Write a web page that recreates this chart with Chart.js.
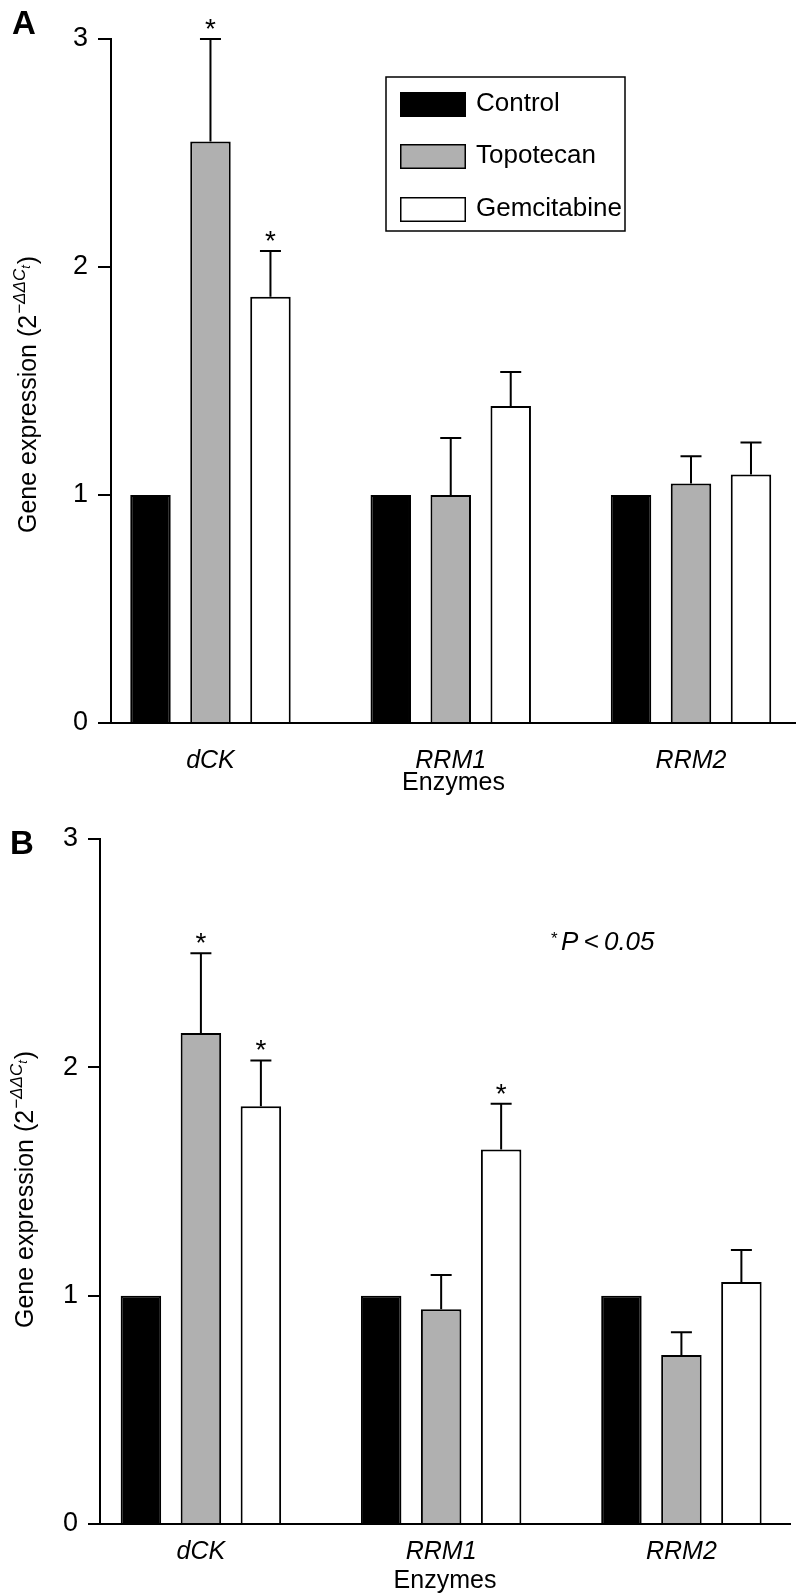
<!DOCTYPE html>
<html>
<head>
<meta charset="utf-8">
<script src="https://cdn.jsdelivr.net/npm/chart.js@4.4.1/dist/chart.umd.min.js"></script>
<style>
  html, body { margin: 0; padding: 0; background: #fff; overflow: hidden; }
  .panel { position: absolute; left: 0; width: 796px; height: 798px; }
  #pa { top: 0; }
  #pb { top: 798px; }
</style>
</head>
<body>
<div class="panel" id="pa"><canvas id="chartA"></canvas></div>
<div class="panel" id="pb"><canvas id="chartB"></canvas></div>
<script>
// categories / series
var categories = ['dCK', 'RRM1', 'RRM2'];
var seriesNames = ['Control', 'Topotecan', 'Gemcitabine'];
var seriesColors = ['#000000', '#b0b0b0', '#ffffff'];
var yTicks = [0, 1, 2, 3];

// panel A
var aControl = [1.00, 1.00, 1.00];
var aTopotecan = [2.55, 1.00, 1.05];
var aGemcitabine = [1.87, 1.39, 1.09];
var aControlErr = [0, 0, 0];
var aTopotecanErr = [0.45, 0.25, 0.12];
var aGemcitabineErr = [0.20, 0.15, 0.14];
var aTopotecanStar = [true, false, false];
var aGemcitabineStar = [true, false, false];

// panel B
var bControl = [1.00, 1.00, 1.00];
var bTopotecan = [2.15, 0.94, 0.74];
var bGemcitabine = [1.83, 1.64, 1.06];
var bControlErr = [0, 0, 0];
var bTopotecanErr = [0.35, 0.15, 0.10];
var bGemcitabineErr = [0.20, 0.20, 0.14];
var bTopotecanStar = [true, false, false];
var bGemcitabineStar = [true, true, false];

var FF = '"Liberation Sans", Arial, Helvetica, sans-serif';

function makeDatasets(vals, errs, stars) {
  return seriesNames.map(function(name, d) {
    return {
      label: name,
      data: vals[d].map(function(v, i) { return { x: i, y: v }; }),
      err: errs[d],
      stars: stars[d],
      backgroundColor: seriesColors[d],
      borderColor: '#000',
      borderWidth: 2,
      categoryPercentage: 0.749,
      barPercentage: 0.675
    };
  });
}

// error bars + asterisks
var errorBarPlugin = {
  id: 'errorBars',
  afterDatasetsDraw: function(chart) {
    var ctx = chart.ctx, ys = chart.scales.y;
    ctx.save();
    ctx.strokeStyle = '#000';
    ctx.fillStyle = '#000';
    ctx.lineWidth = 2;
    chart.data.datasets.forEach(function(ds, d) {
      var meta = chart.getDatasetMeta(d);
      meta.data.forEach(function(bar, i) {
        var e = ds.err[i];
        if (!e) return;
        var v = ds.data[i].y;
        var yTop = ys.getPixelForValue(v);
        var yCap = ys.getPixelForValue(v + e);
        ctx.beginPath();
        ctx.moveTo(bar.x, yTop);
        ctx.lineTo(bar.x, yCap);
        ctx.moveTo(bar.x - 10.5, yCap);
        ctx.lineTo(bar.x + 10.5, yCap);
        ctx.stroke();
        if (ds.stars && ds.stars[i]) {
          ctx.font = '28px ' + FF;
          ctx.textAlign = 'center';
          ctx.textBaseline = 'alphabetic';
          ctx.fillText('*', bar.x, yCap - 1);
        }
      });
    });
    ctx.restore();
  }
};

function drawYTitle(ctx, xb, yStart) {
  ctx.save();
  ctx.translate(xb, yStart);
  ctx.rotate(-Math.PI / 2);
  ctx.fillStyle = '#000';
  ctx.textAlign = 'left';
  ctx.textBaseline = 'alphabetic';
  var x = 0, s;
  ctx.font = '25px ' + FF;
  s = 'Gene expression (2';
  ctx.fillText(s, x, 0); x += ctx.measureText(s).width;
  ctx.font = 'italic 17px ' + FF;
  s = '\u2212\u0394\u0394C';
  ctx.fillText(s, x + 1, -11); x += ctx.measureText(s).width + 1;
  ctx.font = 'italic 13px ' + FF;
  ctx.fillText('t', x, -6); x += ctx.measureText('t').width + 1;
  ctx.font = '25px ' + FF;
  ctx.fillText(')', x, 0);
  ctx.restore();
}

function drawLegend(ctx, chart) {
  ctx.save();
  ctx.strokeStyle = '#000';
  ctx.lineWidth = 1.5;
  ctx.strokeRect(386, 77, 239, 154);
  var tops = [92, 144, 197];
  chart.data.datasets.forEach(function(ds, d) {
    ctx.fillStyle = ds.backgroundColor;
    ctx.fillRect(400, tops[d], 66, 25);
    ctx.lineWidth = 1.5;
    ctx.strokeRect(400.75, tops[d] + 0.75, 64.5, 23.5);
    ctx.fillStyle = '#000';
    ctx.font = '26px ' + FF;
    ctx.textAlign = 'left';
    ctx.textBaseline = 'middle';
    ctx.fillText(ds.label, 476, tops[d] + 12);
  });
  ctx.restore();
}

function extrasPlugin(panel) {
  return {
    id: 'extras' + panel,
    afterDraw: function(chart) {
      var ctx = chart.ctx, area = chart.chartArea;
      ctx.save();
      ctx.fillStyle = '#000';
      ctx.font = 'bold 33px ' + FF;
      ctx.textAlign = 'left';
      ctx.textBaseline = 'alphabetic';
      if (panel === 'A') {
        ctx.fillText('A', 12, 34);
        drawYTitle(ctx, 36, area.bottom - 190);
        drawLegend(ctx, chart);
      } else {
        ctx.fillText('B', 10, 56);
        drawYTitle(ctx, 33, area.bottom - 196);
        ctx.font = '17px ' + FF;
        ctx.fillText('*', 551, 146);
        ctx.font = 'italic 26px ' + FF;
        ctx.fillText('P\u2009<\u20090.05', 561, 152);
      }
      ctx.restore();
    }
  };
}

function makeChart(id, panel, datasets, geo) {
  return new Chart(document.getElementById(id), {
    type: 'bar',
    data: { datasets: datasets },
    plugins: [errorBarPlugin, extrasPlugin(panel)],
    options: {
      responsive: true,
      maintainAspectRatio: false,
      animation: false,
      events: [],
      layout: { padding: { top: geo.top, right: geo.right, left: 0, bottom: 0 } },
      plugins: { legend: { display: false }, tooltip: { enabled: false } },
      scales: {
        x: {
          type: 'linear',
          min: geo.xmin,
          max: geo.xmax,
          offset: false,
          afterFit: function(s) { s.height = geo.xh; },
          afterBuildTicks: function(s) {
            s.ticks = categories.map(function(c, i) { return { value: i }; });
          },
          grid: { display: false, drawTicks: false },
          border: { display: true, color: '#000', width: 2 },
          ticks: {
            autoSkip: false, maxRotation: 0, color: '#000', padding: geo.tpad,
            font: { family: FF, size: 25, style: 'italic' },
            callback: function(v) { return categories[v]; }
          },
          title: {
            display: true, text: 'Enzymes', color: '#000',
            font: { family: FF, size: 25 }, padding: { top: geo.ttop, bottom: 0 }
          }
        },
        y: {
          min: 0, max: 3,
          afterFit: function(s) { s.width = geo.yw; },
          afterBuildTicks: function(s) {
            s.ticks = yTicks.map(function(v) { return { value: v }; });
          },
          grid: { drawOnChartArea: false, drawTicks: true, tickLength: geo.tl, color: '#000', lineWidth: 2 },
          border: { display: true, color: '#000', width: 2 },
          ticks: { color: '#000', padding: 10, font: { family: FF, size: 27 } }
        }
      }
    }
  });
}

makeChart('chartA', 'A',
  makeDatasets([aControl, aTopotecan, aGemcitabine],
               [aControlErr, aTopotecanErr, aGemcitabineErr],
               [null, aTopotecanStar, aGemcitabineStar]),
  { top: 39, right: 0, xmin: -0.414, xmax: 2.437, xh: 75, yw: 111, tl: 13, tpad: 23, ttop: -2 });

makeChart('chartB', 'B',
  makeDatasets([bControl, bTopotecan, bGemcitabine],
               [bControlErr, bTopotecanErr, bGemcitabineErr],
               [null, bTopotecanStar, bGemcitabineStar]),
  { top: 41, right: 6, xmin: -0.420, xmax: 2.452, xh: 72, yw: 100, tl: 12, tpad: 13, ttop: 2 });
</script>
</body>
</html>
